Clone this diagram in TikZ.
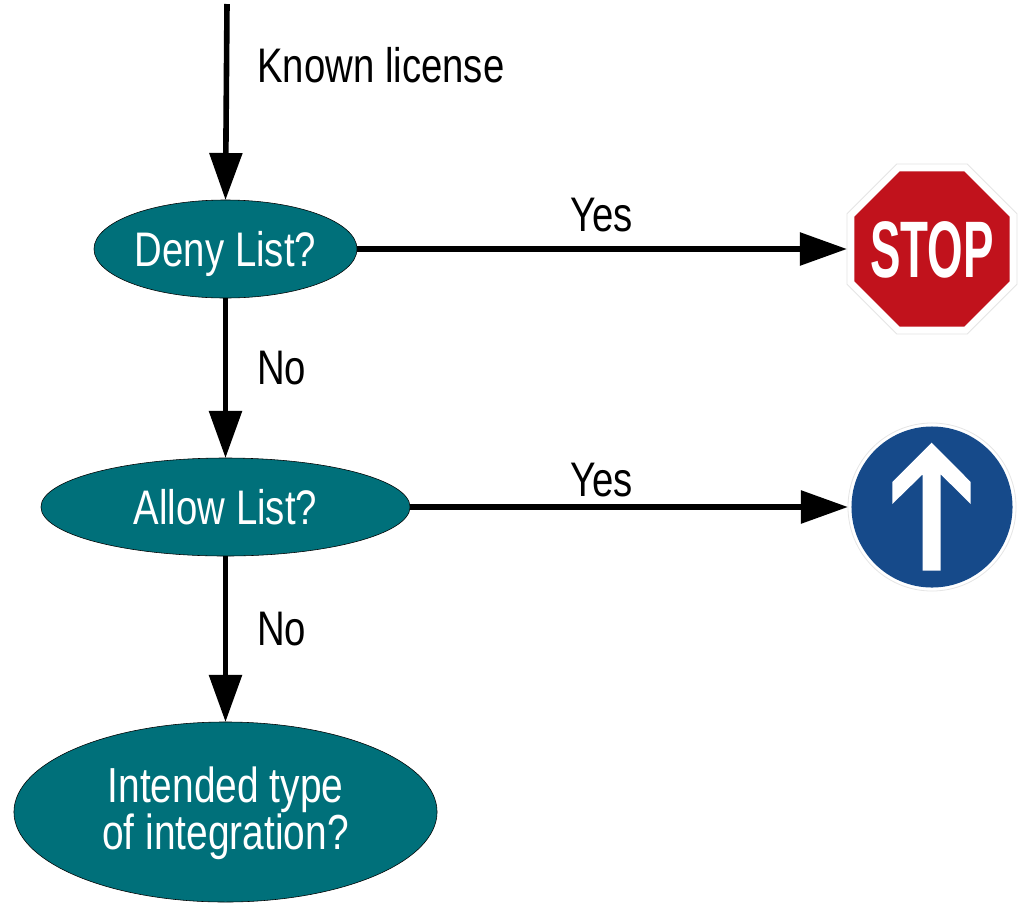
\documentclass[tikz,border=0pt]{standalone}
\usepackage{fontspec}
\setmainfont[FakeStretch=0.79]{Liberation Sans}
\newfontfamily\signfont[FakeStretch=0.57]{Liberation Sans Bold}
\usetikzlibrary{arrows.meta,shapes.geometric}
\definecolor{decisionteal}{RGB}{0,112,122}
\definecolor{stopred}{RGB}{193,18,28}
\definecolor{signblue}{RGB}{22,74,138}
\tikzset{
  decision/.style={ellipse,draw=black,fill=decisionteal,text=white,inner sep=0pt,outer sep=0pt,align=center,
    text height=25pt,text depth=0pt,font=\fontsize{34.5}{32}\selectfont},
  flowlabel/.style={anchor=base west,inner sep=0pt,font=\fontsize{34.5}{36}\selectfont},
  flow/.style={line width=0.14cm,-{Triangle[length=1.175cm,width=0.8cm]}},
  signborder/.style={draw=black!10,fill=white,line width=0.02cm,inner sep=0pt,outer sep=0pt}
}
\begin{document}
\begin{tikzpicture}[x=0.025cm,y=-0.025cm]
  \useasboundingbox (0,0) rectangle (1020,903);
  \node[decision,minimum width=6.575cm,minimum height=2.45cm] (deny) at (225.5,249) {Deny List?};
  \node[decision,minimum width=9.225cm,minimum height=2.45cm] (allow) at (225.5,507) {Allow List?};
  \node[decision,minimum width=10.575cm,minimum height=4.5cm,text height=54pt,font=\fontsize{35}{32}\selectfont] (intended) at (225.5,812) {Intended type\\of integration?};
  % signs
  \node[signborder,regular polygon,regular polygon sides=8,minimum size=4.6cm] (stopsign) at (932,249) {};
  \node[regular polygon,regular polygon sides=8,minimum size=4.2cm,fill=stopred,inner sep=0pt] (stopface) at (stopsign.center) {};
  \node[text=white,inner sep=0pt,text height=41pt,text depth=0pt,
    font=\signfont\fontsize{57}{57}\selectfont] (stoptext) at (stopsign.center) {STOP};
  \node[signborder,circle,minimum size=4.2cm] (aheadsign) at (932,507) {};
  \node[circle,minimum size=4.025cm,fill=signblue,inner sep=0pt] (aheadface) at (aheadsign.center) {};
  \fill[white] (931.7,442.7) -- (970.7,482) -- (970.7,504) -- (940.7,474.3) -- (940.7,570.7)
    -- (922.7,570.7) -- (922.7,474.3) -- (892.3,504) -- (892.3,482) -- cycle;
  % connectors
  \coordinate (start) at (227,4);
  \draw[flow] (start) -- (deny.north);
  \draw[flow] (deny) -- (stopsign);
  \draw[flow] (deny) -- (allow);
  \draw[flow] (allow) -- (aheadsign);
  \draw[flow] (allow) -- (intended);
  % labels
  \node[flowlabel] (known) at (257,82) {Known license};
  \node[flowlabel] (yesdeny) at (570,231) {Yes};
  \node[flowlabel] (nodeny) at (257,384) {No};
  \node[flowlabel] (yesallow) at (570,496) {Yes};
  \node[flowlabel] (noallow) at (257,645) {No};
\end{tikzpicture}
\end{document}
